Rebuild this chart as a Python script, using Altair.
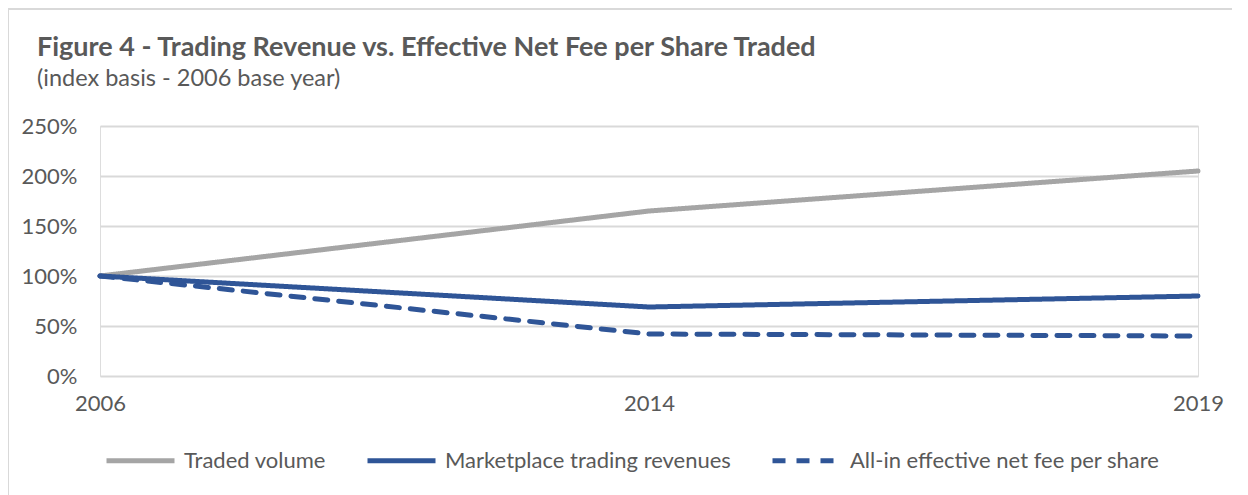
import altair as alt
import pandas as pd

years = ["2006", "2014", "2019"]
series_names = ["Traded volume", "Marketplace trading revenues", "All-in effective net fee per share"]
traded_volume = [1.00, 1.65, 2.05]
marketplace_revenues = [1.00, 0.69, 0.80]
net_fee_per_share = [1.00, 0.42, 0.40]
title_text = "Figure 4 - Trading Revenue vs. Effective Net Fee per Share Traded"
subtitle_text = "(index basis - 2006 base year)"

rows = []
for name, vals in zip(series_names, [traded_volume, marketplace_revenues, net_fee_per_share]):
    for y, v in zip(years, vals):
        rows.append({"year": y, "value": v, "series": name})
df = pd.DataFrame(rows)

FONT = "Lato"
TXT = "#595959"
FS = 22

legend_kw = dict(title=None, orient="none", legendX=4, legendY=298,
                 direction="horizontal", symbolType="stroke", symbolSize=4624,
                 symbolStrokeWidth=5, labelFontSize=FS, labelFont=FONT,
                 labelColor=TXT, labelOffset=7, columnPadding=31, labelLimit=500)

lines = alt.Chart(df).mark_line(strokeWidth=5, strokeCap="round", strokeJoin="round").encode(
    x=alt.X("year:O", sort=years, scale=alt.Scale(type="point", padding=0),
            axis=alt.Axis(title=None, labelAngle=0, domain=False, ticks=False, grid=False,
                          labelPadding=17, labelFontSize=FS, labelColor=TXT, labelFont=FONT)),
    y=alt.Y("value:Q", scale=alt.Scale(domain=[0, 2.5], nice=False),
            axis=alt.Axis(title=None, format=".0%", values=[0, 0.5, 1, 1.5, 2, 2.5], domain=False,
                          ticks=False, gridColor="#D9D9D9", gridWidth=2, labelPadding=23,
                          labelFontSize=FS, labelColor=TXT, labelFont=FONT)),
    color=alt.Color("series:N", sort=series_names,
                    scale=alt.Scale(domain=series_names, range=["#A5A5A5", "#2F5597", "#2F5597"]),
                    legend=alt.Legend(**legend_kw)),
    strokeDash=alt.StrokeDash("series:N", sort=series_names,
                              scale=alt.Scale(domain=series_names, range=[[1, 0], [1, 0], [13, 11]]),
                              legend=alt.Legend(**legend_kw)),
    order=alt.Order("year:O"),
)

frame_top = alt.Chart(df).mark_rule(color="#D9D9D9", strokeWidth=2).encode(
    x=alt.value(-92), x2=alt.value(1148), y=alt.value(-117)
)
frame_left = alt.Chart(df).mark_rule(color="#D9D9D9", strokeWidth=2).encode(
    x=alt.value(-92), y=alt.value(-118), y2=alt.value(369)
)

title_df = pd.DataFrame({"t": [title_text]})
subtitle_df = pd.DataFrame({"t": [subtitle_text]})
title_mark = alt.Chart(title_df).mark_text(
    align="left", baseline="alphabetic", font=FONT, fontSize=27, fontWeight="bold", color=TXT
).encode(text="t:N", x=alt.value(-63), y=alt.value(-70))
subtitle_mark = alt.Chart(subtitle_df).mark_text(
    align="left", baseline="alphabetic", font=FONT, fontSize=23.5, color=TXT
).encode(text="t:N", x=alt.value(-63), y=alt.value(-40))

chart = alt.layer(frame_top, frame_left, lines, title_mark, subtitle_mark).properties(
    width=1098,
    height=250,
    padding={"left": 92, "top": 118, "right": 34, "bottom": 119},
    autosize=alt.AutoSizeParams(type="none"),
).configure_view(stroke=None).configure(background="white")

chart.save("out.html", embed_options={"renderer": "svg", "actions": False})
